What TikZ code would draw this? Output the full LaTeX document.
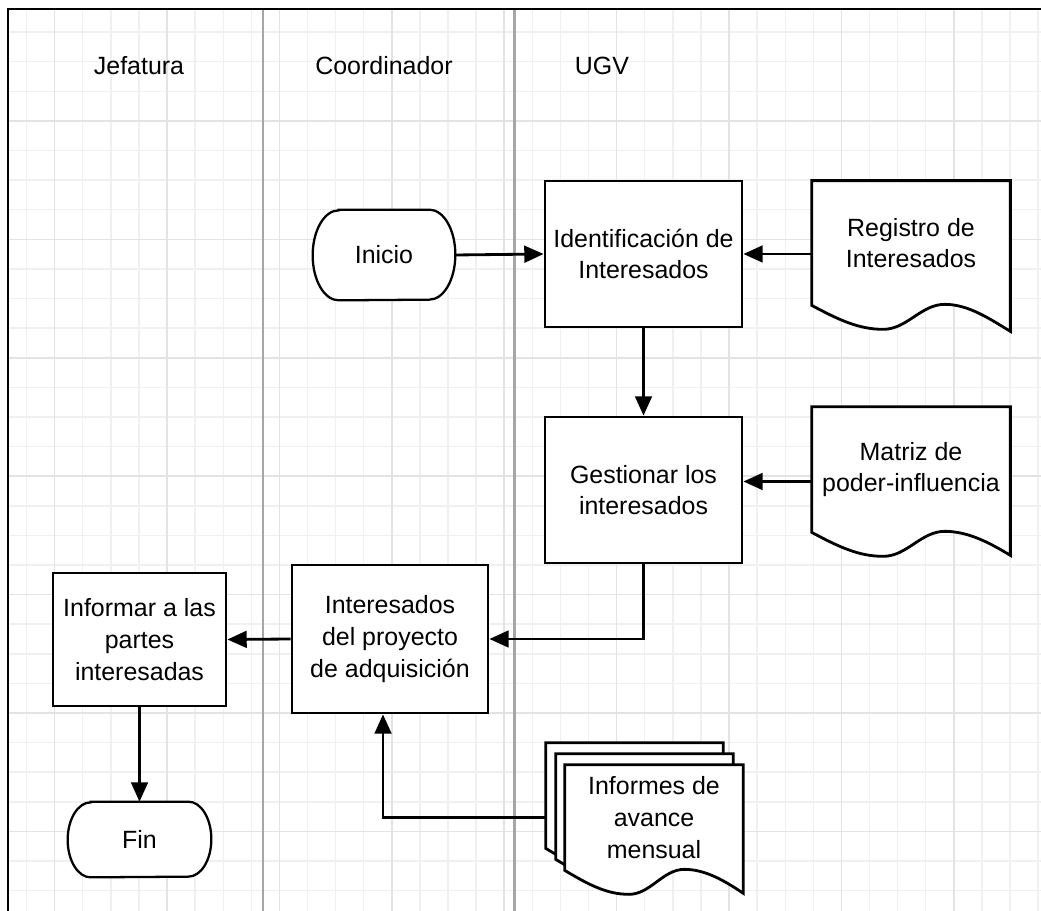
\documentclass[tikz,border=0pt]{standalone}
\usepackage{fontspec}
\setmainfont{Liberation Sans}
\usetikzlibrary{arrows.meta, calc}

\pgfdeclarelayer{grid}
\pgfdeclarelayer{shapes}
\pgfsetlayers{grid,shapes,main}

% hoja de documento: borde ondulado bajo el nodo #1, caida derecha #2
\newcommand{\docwave}[2]{%
  \begin{pgfonlayer}{shapes}
  \filldraw[docline, fill=white] ($(#1.south east)+(0,#2)$) -- (#1.north east) -- (#1.north west) -- (#1.south west)
    .. controls ($(#1.south west)!0.14!(#1.south east)+(0,15)$) and ($(#1.south west)!0.24!(#1.south east)+(0,24)$) .. ($(#1.south west)!0.36!(#1.south east)+(0,24)$)
    .. controls ($(#1.south west)!0.48!(#1.south east)+(0,24)$) and ($(#1.south west)!0.55!(#1.south east)+(0,-1)$) .. ($(#1.south west)!0.67!(#1.south east)+(0,-1)$)
    .. controls ($(#1.south west)!0.79!(#1.south east)+(0,-1)$) and ($(#1.south west)!0.9!(#1.south east)+(0,#2-12)$) .. ($(#1.south east)+(0,#2)$) -- cycle;
  \end{pgfonlayer}
}

% terminal con extremos elipticos
\newcommand{\termshape}[3]{%
  \begin{pgfonlayer}{shapes}
  \filldraw[termline, fill=white] ($(#1.north west)+(#2,0)$) -- ($(#1.north east)+(-#2,0)$)
    arc[start angle=90, end angle=-90, x radius=#2*0.02cm, y radius=#3*0.02cm]
    -- ($(#1.south west)+(#2,0)$)
    arc[start angle=270, end angle=90, x radius=#2*0.02cm, y radius=#3*0.02cm] -- cycle;
  \end{pgfonlayer}
}

\begin{document}
\begin{tikzpicture}[x=0.02cm, y=-0.02cm,
    font=\fontsize{14.2}{18.1}\selectfont,
    box/.style={draw, line width=1.6pt, fill=white, align=center, inner sep=0pt,
      minimum width=3.94cm, minimum height=2.92cm},
    terminal/.style={inner sep=0pt},
    docbox/.style={align=center, inner sep=0pt,
      minimum width=3.96cm, minimum height=2.48cm},
    docline/.style={line width=1.6pt, line join=miter},
    termline/.style={line width=1.3pt},
    conn/.style={line width=1.6pt, -{Triangle[length=11pt, width=9.5pt]}},
    gridminor/.style={draw=black!6, line width=0.8pt},
    gridmajor/.style={draw=black!11, line width=0.9pt},
    lane/.style={draw=black!35, line width=1.7pt},
    title/.style={inner sep=0pt}]

    \useasboundingbox (0,0) rectangle (1041,911);

    % cuadricula y carriles
    \begin{pgfonlayer}{grid}
    \foreach \i in {1,...,37} {
      \pgfmathsetmacro{\gx}{-1.6+28.1*\i}
      \draw[gridminor] (\gx,9) -- (\gx,911);
    }
    \foreach \j in {1,...,30} {
      \pgfmathsetmacro{\gy}{2.6+29.6*\j}
      \draw[gridminor] (8,\gy) -- (1041,\gy);
    }
    \foreach \i in {2,6,...,34} {
      \pgfmathsetmacro{\gx}{-1.6+28.1*\i}
      \draw[gridmajor] (\gx,9) -- (\gx,911);
    }
    \foreach \j in {4,8,...,28} {
      \pgfmathsetmacro{\gy}{2.6+29.6*\j}
      \draw[gridmajor] (8,\gy) -- (1041,\gy);
    }
    \draw[lane] (263,10) -- (263,911);
    \draw[lane] (514,10) -- (514,911);
    \draw[line width=1.5pt] (8,911) -- (8,9) -- (1041,9);
    \end{pgfonlayer}

    % titulos de carril
    \node[title] (jef) at (139,66) {Jefatura};
    \node[title] (coord) at (384,66) {Coordinador};
    \node[title] (ugv) at (602,66) {UGV};

    % procesos
    \node[terminal, minimum width=2.84cm, minimum height=1.8cm] (inicio) at (384,255) {Inicio};
    \termshape{inicio}{26}{45}
    \node[box] (ident) at (643.5,254) {Identificaci\'on de\\Interesados};
    \node[box] (gest) at (643.5,490) {Gestionar los\\interesados};
    \node[box, minimum width=3.92cm, minimum height=2.96cm] (inter) at (390,639)
      {Interesados\\del proyecto\\de adquisici\'on};
    \node[box, minimum width=3.46cm, minimum height=2.66cm] (informar) at (139.5,639.5)
      {Informar a las\\partes\\interesadas};
    \node[terminal, minimum width=2.86cm, minimum height=1.5cm] (fin) at (139.5,839.5) {Fin};
    \termshape{fin}{23}{37.5}

    % documentos
    \node[docbox] (reg) at (911,243) {Registro de\\Interesados};
    \docwave{reg}{26}
    \node[docbox, minimum height=2.5cm] (mat) at (911,469.5) {Matriz de\\poder-influencia};
    \docwave{mat}{23}

    % documentos multiples
    \node[docbox, minimum width=3.54cm, minimum height=2.1cm] (infB) at (634.5,795.5) {};
    \docwave{infB}{23}
    \node[docbox, minimum width=3.54cm, minimum height=2.1cm] (infM) at (644.5,806.5) {};
    \docwave{infM}{23}
    \node[docbox, minimum width=3.56cm, minimum height=2.1cm] (inf) at (654,817.5)
      {Informes de\\avance\\mensual};
    \docwave{inf}{23}

    % conectores
    \coordinate (interin) at ([xshift=-0.14cm]inter.south);
    \draw[conn] (inicio.east) -- (ident.west);
    \draw[conn] (reg.west |- ident.east) -- (ident.east);
    \draw[conn] (ident.south) -- (gest.north);
    \draw[conn] ([yshift=-0.24cm]mat.west) -- ([yshift=-0.24cm]mat.west -| gest.east);
    \draw[conn] (gest.south) |- (inter.east);
    \draw[conn] (inter.west) -- (informar.east);
    \draw[conn] (informar.south) -- (fin.north);
    \draw[conn] (inf.west -| infB.west) -| (interin);
\end{tikzpicture}
\end{document}
